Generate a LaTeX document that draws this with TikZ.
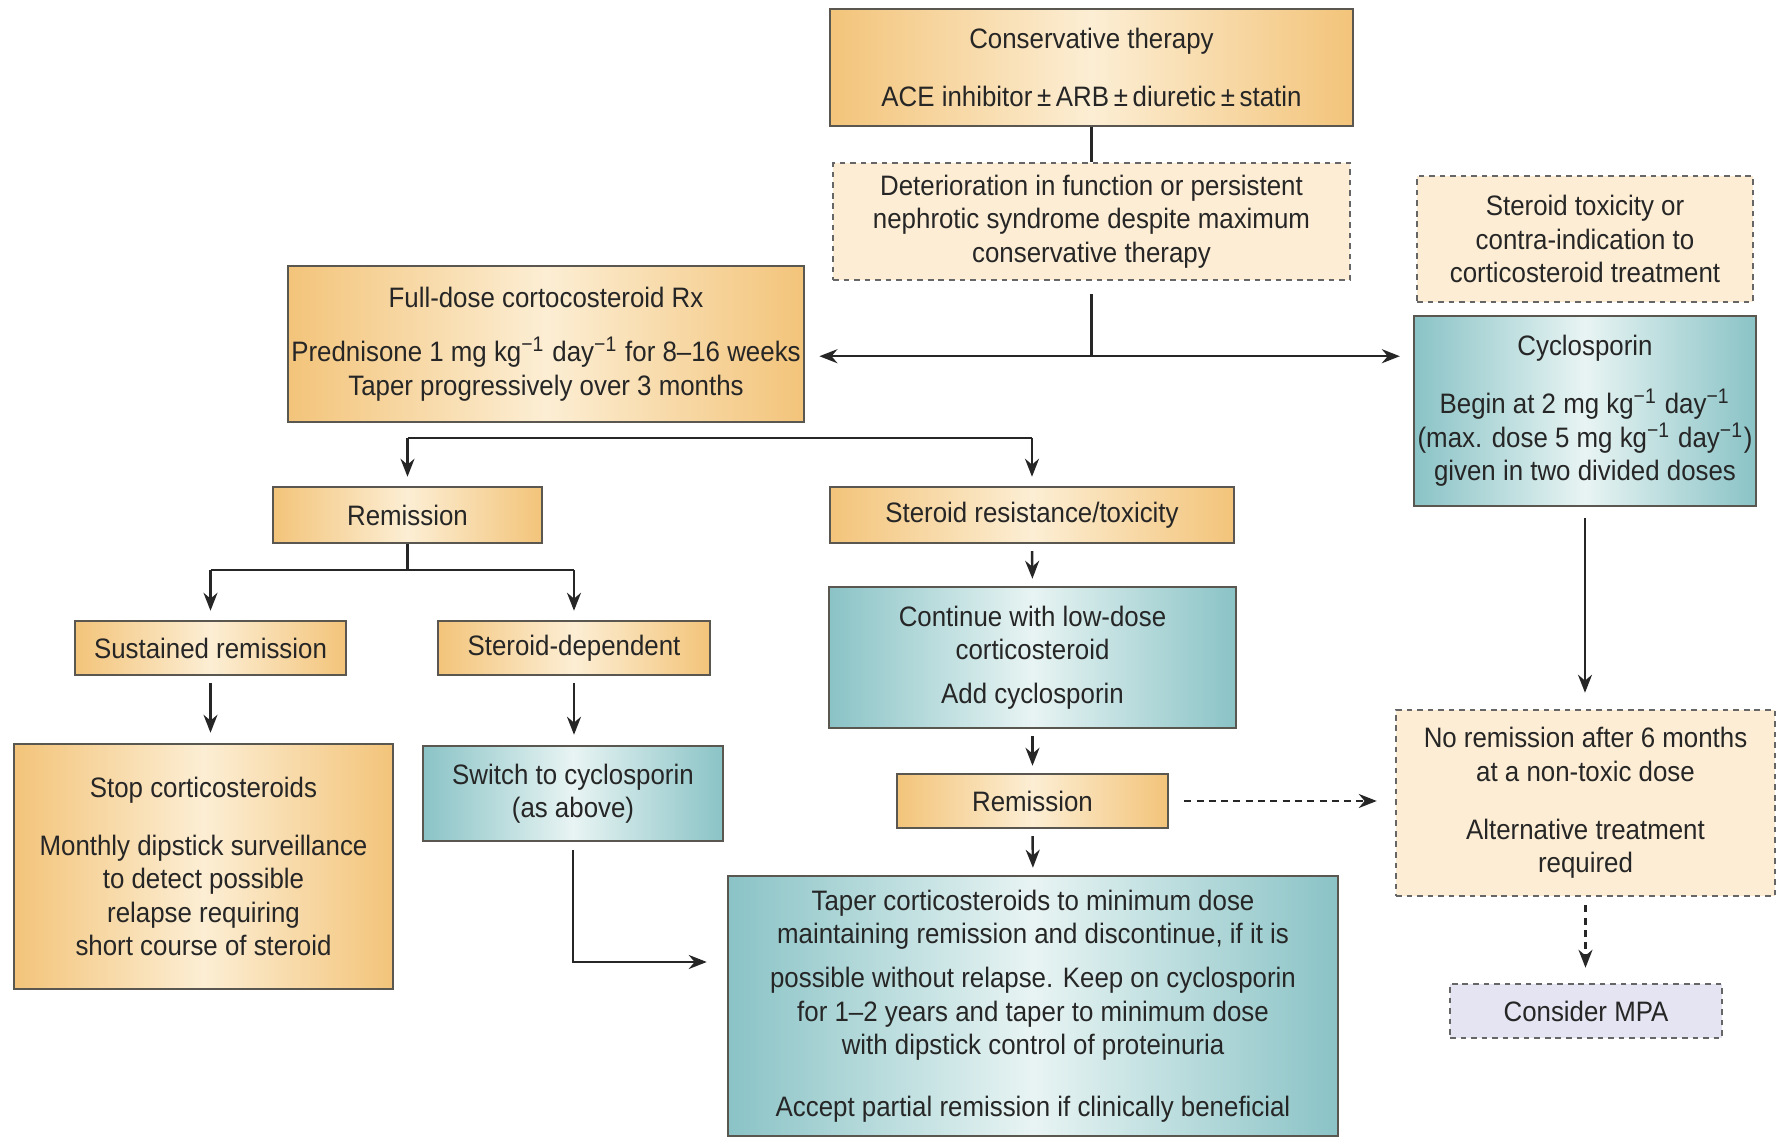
\documentclass[tikz,border=0pt]{standalone}
\usepackage{fontspec}
\setmainfont{Liberation Sans}[FakeStretch=0.92]
\usetikzlibrary{arrows.meta}
\definecolor{oedge}{RGB}{243,196,122}
\definecolor{olight}{RGB}{252,238,212}
\definecolor{tedge}{RGB}{138,195,198}
\definecolor{tlight}{RGB}{232,244,243}
\definecolor{cream}{RGB}{253,237,212}
\definecolor{lilac}{RGB}{228,228,242}
\definecolor{bord}{RGB}{90,86,80}
\begin{document}
\begin{tikzpicture}[
 every node/.style={font=\fontsize{8}{9.5}\selectfont,text=black!85,align=center,inner sep=1pt},
 obox/.style={draw=bord,line width=0.7pt,left color=oedge,right color=oedge,middle color=olight},
 tbox/.style={draw=bord,line width=0.7pt,left color=tedge,right color=tedge,middle color=tlight},
 dbox/.style={draw=black!60,line width=0.7pt,dash pattern=on 1.6pt off 1.4pt,fill=cream},
 mbox/.style={draw=black!60,line width=0.7pt,dash pattern=on 1.6pt off 1.4pt,fill=lilac},
 line/.style={draw=black!85,line width=0.7pt},
 >={Stealth[length=1.8mm,width=1.4mm]}]
 \fill[white] (0,0) rectangle (17.83,-11.38);
 \useasboundingbox (0,0) rectangle (17.83,-11.38);
 \node[obox,minimum width=5.23cm,minimum height=1.17cm] (cons) at (10.915,-0.675) {Conservative therapy\\[7pt]ACE inhibitor\,±\,ARB\,±\,diuretic\,±\,statin};
 \node[dbox,minimum width=5.17cm,minimum height=1.17cm] (deter) at (10.915,-2.215) {Deterioration in function or persistent\\nephrotic syndrome despite maximum\\conservative therapy};
 \node[dbox,minimum width=3.36cm,minimum height=1.26cm] (stox) at (15.85,-2.39) {Steroid toxicity or\\contra-indication to\\corticosteroid treatment};
 \node[tbox,minimum width=3.36cm,minimum height=1.9cm] (cyclo) at (15.85,-4.11) {Cyclosporin\\[7pt]Begin at 2 mg kg\textsuperscript{−1} day\textsuperscript{−1}\\(max. dose 5 mg kg\textsuperscript{−1} day\textsuperscript{−1})\\given in two divided doses};
 \node[obox,minimum width=5.12cm,minimum height=1.56cm] (full) at (5.46,-3.44) {Full-dose cortocosteroid Rx\\[6pt]Prednisone 1 mg kg\textsuperscript{−1} day\textsuperscript{−1} for 8–16 weeks\\Taper progressively over 3 months};
 \node[obox,minimum width=2.69cm,minimum height=0.56cm] (rem1) at (4.075,-5.15) {Remission};
 \node[obox,minimum width=4.04cm,minimum height=0.56cm] (sres) at (10.32,-5.15) {Steroid resistance/toxicity};
 \node[obox,minimum width=2.71cm,minimum height=0.54cm] (sust) at (2.105,-6.48) {Sustained remission};
 \node[obox,minimum width=2.72cm,minimum height=0.54cm] (sdep) at (5.74,-6.48) {Steroid-dependent};
 \node[obox,minimum width=3.79cm,minimum height=2.45cm] (stop) at (2.035,-8.665) {Stop corticosteroids\\[7pt]Monthly dipstick surveillance\\to detect possible\\relapse requiring\\short course of steroid};
 \node[tbox,minimum width=3.0cm,minimum height=0.95cm] (switch) at (5.73,-7.935) {Switch to cyclosporin\\(as above)};
 \node[tbox,minimum width=4.07cm,minimum height=1.41cm] (cont) at (10.325,-6.575) {Continue with low-dose\\corticosteroid\\[3pt]Add cyclosporin};
 \node[obox,minimum width=2.71cm,minimum height=0.54cm] (rem2) at (10.325,-8.01) {Remission};
 \node[tbox,minimum width=6.1cm,minimum height=2.6cm] (taper) at (10.33,-10.06) {Taper corticosteroids to minimum dose\\maintaining remission and discontinue, if it is\\[3pt]possible without relapse. Keep on cyclosporin\\for 1–2 years and taper to minimum dose\\with dipstick control of proteinuria\\[8pt]Accept partial remission if clinically beneficial};
 \node[dbox,minimum width=3.79cm,minimum height=1.86cm] (nrem) at (15.855,-8.03) {No remission after 6 months\\at a non-toxic dose\\[7pt]Alternative treatment\\required};
 \node[mbox,minimum width=2.72cm,minimum height=0.54cm] (mpa) at (15.86,-10.11) {Consider MPA};
 \coordinate (split) at ([yshift=-0.75cm]deter.south);
 \coordinate (fbus) at ([yshift=-0.15cm]full.south);
 \coordinate (rbus) at ([yshift=-0.26cm]rem1.south);
 \draw[line] (cons.south) -- (deter.north);
 \draw[line,shorten <=0.13cm] (deter.south) -- (split);
 \draw[line,<->,shorten <=0.14cm,shorten >=0.13cm] (full.east |- split) -- (cyclo.west |- split);
 \draw[line] (rem1.north |- fbus) -- (sres.north |- fbus);
 \draw[line,->,shorten >=0.09cm] (rem1.north |- fbus) -- (rem1.north);
 \draw[line,->,shorten >=0.09cm] (sres.north |- fbus) -- (sres.north);
 \draw[line] (rem1.south) -- (rbus);
 \draw[line] (sust.north |- rbus) -- (sdep.north |- rbus);
 \draw[line,->,shorten >=0.09cm] (sust.north |- rbus) -- (sust.north);
 \draw[line,->,shorten >=0.09cm] (sdep.north |- rbus) -- (sdep.north);
 \draw[line,->,shorten <=0.07cm,shorten >=0.1cm] (sust.south) -- (sust.south |- stop.north);
 \draw[line,->,shorten <=0.07cm,shorten >=0.1cm] (sdep.south) -- (sdep.south |- switch.north);
 \draw[line,->,shorten <=0.07cm,shorten >=0.07cm] (sres.south) -- (cont.north);
 \draw[line,->,shorten <=0.07cm,shorten >=0.07cm] (cont.south) -- (rem2.north);
 \draw[line,->,shorten <=0.07cm,shorten >=0.07cm] (rem2.south) -- (taper.north);
 \draw[line,->,shorten <=0.08cm,shorten >=0.2cm] (switch.south) |- ([yshift=0.44cm]taper.west);
 \draw[line,->,dash pattern=on 2pt off 1.5pt,shorten <=0.15cm,shorten >=0.18cm] (rem2.east) -- (rem2.east -| nrem.west);
 \draw[line,->,shorten <=0.11cm,shorten >=0.16cm] (cyclo.south) -- (cyclo.south |- nrem.north);
 \draw[line,->,dash pattern=on 2pt off 1.5pt,shorten <=0.08cm,shorten >=0.15cm] (nrem.south) -- (nrem.south |- mpa.north);
\end{tikzpicture}
\end{document}
